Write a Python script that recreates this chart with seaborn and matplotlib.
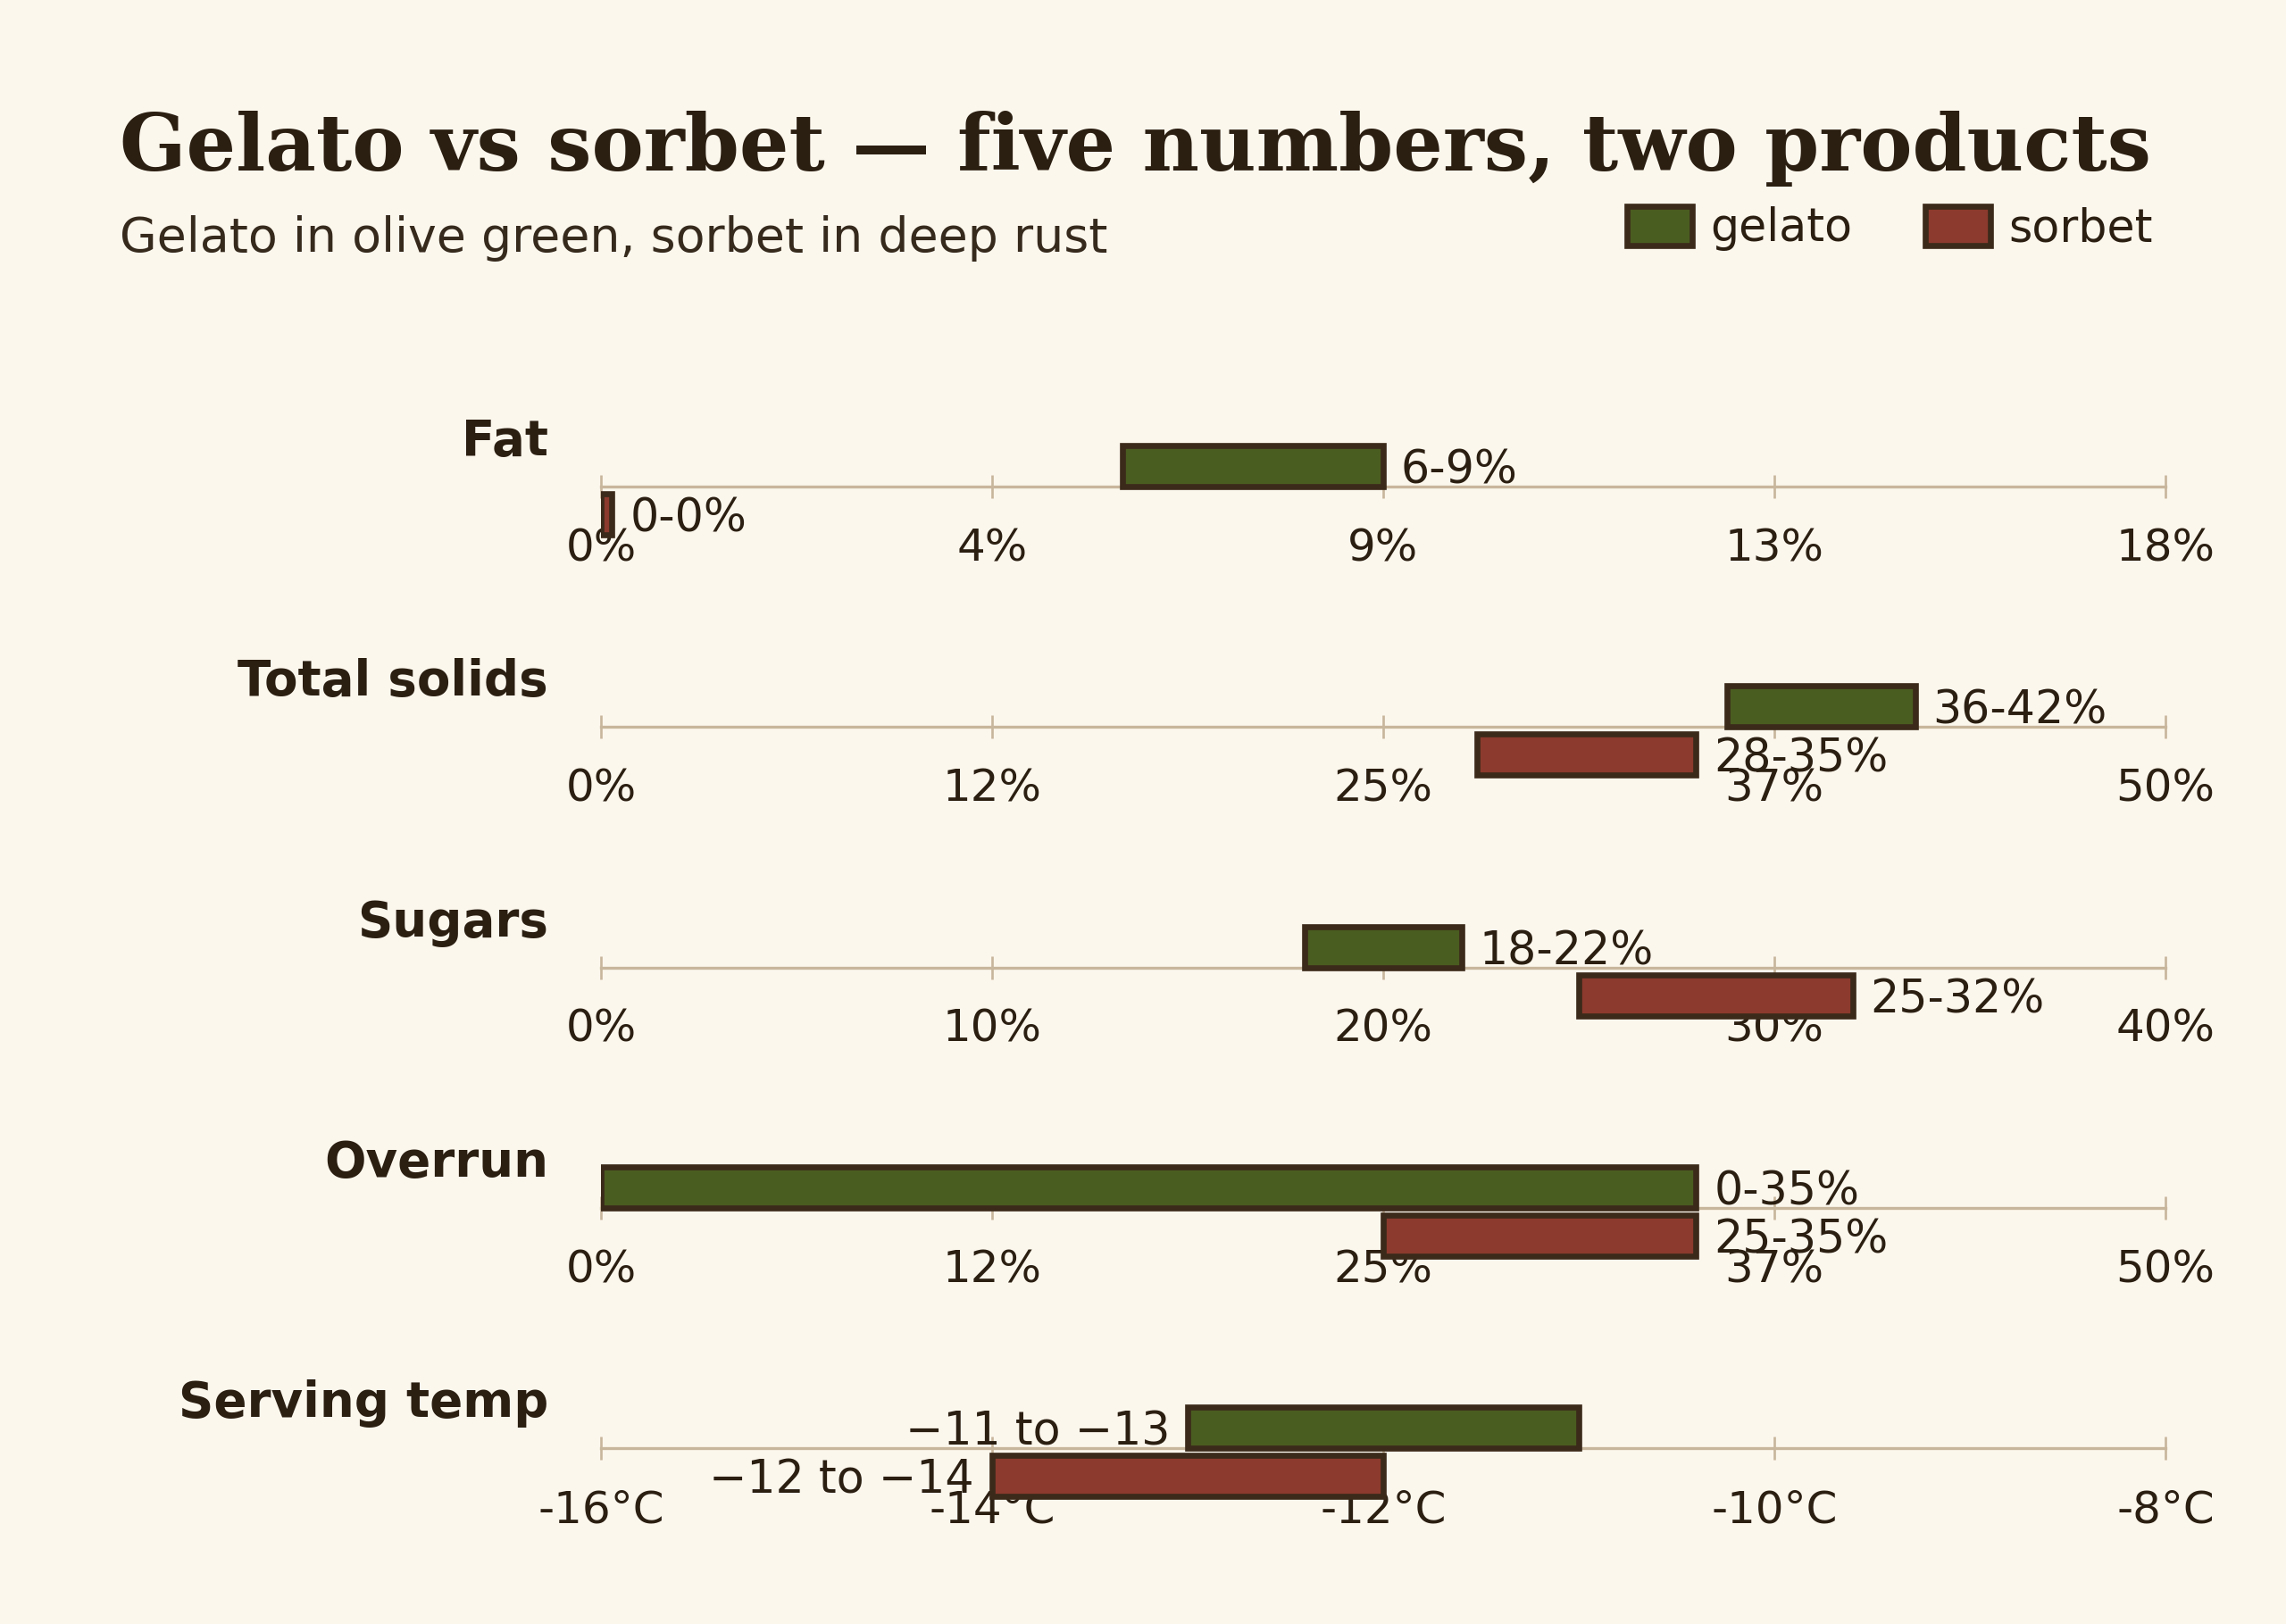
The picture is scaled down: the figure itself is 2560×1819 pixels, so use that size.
import numpy as np
import matplotlib
matplotlib.use("Agg")
import matplotlib.pyplot as plt
from matplotlib.patches import Patch
import seaborn as sns

# data
metrics = ["Fat", "Total solids", "Sugars", "Overrun", "Serving temp"]
gelato_lo = [6, 36, 18, 0, -13]
gelato_hi = [9, 42, 22, 35, -11]
sorbet_lo = [0, 28, 25, 25, -14]
sorbet_hi = [0, 35, 32, 35, -12]
gelato_labels = ["6-9%", "36-42%", "18-22%", "0-35%", "\u221211 to \u221213"]
sorbet_labels = ["0-0%", "28-35%", "25-32%", "25-35%", "\u221212 to \u221214"]
axis_min = [0, 0, 0, 0, -16]
axis_max = [18, 50, 40, 50, -8]
tick_labels = [
    ["0%", "4%", "9%", "13%", "18%"],
    ["0%", "12%", "25%", "37%", "50%"],
    ["0%", "10%", "20%", "30%", "40%"],
    ["0%", "12%", "25%", "37%", "50%"],
    ["-16°C", "-14°C", "-12°C", "-10°C", "-8°C"],
]

BG = "#fcf7ed"
INK = "#2b1f12"
EDGE = "#3b2a1a"
GREEN = "#4a5d20"
RUST = "#8b3a2d"
RULE = "#c8b69c"

sns.set_theme(style="white", rc={"figure.facecolor": BG, "axes.facecolor": BG})
plt.rcParams["font.family"] = ["DejaVu Sans"]
plt.rcParams["text.color"] = INK

W, H, DPI = 2560, 1819, 160
fig = plt.figure(figsize=(W / DPI, H / DPI), dpi=DPI)

x0, x1 = 673, 2425
first_line, row_gap = 545, 269.3
LBL = 22.8

for i, name in enumerate(metrics):
    line_y = first_line + i * row_gap
    ax = fig.add_axes([x0 / W, 1 - (line_y + 135) / H, (x1 - x0) / W, 270 / H])
    ax.set_facecolor("none")
    ax.set_xlim(axis_min[i], axis_max[i])
    ax.set_ylim(-1.35, 1.35)
    span = axis_max[i] - axis_min[i]

    # a zero-width range still gets a visible sliver
    g_w = max(gelato_hi[i] - gelato_lo[i], span * 0.007)
    s_w = max(sorbet_hi[i] - sorbet_lo[i], span * 0.007)
    ax.barh(0.23, g_w, left=gelato_lo[i], height=0.46, color=GREEN,
            edgecolor=EDGE, linewidth=3, zorder=3)
    ax.barh(-0.31, s_w, left=sorbet_lo[i], height=0.46, color=RUST,
            edgecolor=EDGE, linewidth=3, zorder=3)

    if "°C" in tick_labels[i][0]:
        ax.annotate(gelato_labels[i], (gelato_lo[i], 0.23), xytext=(-9, 0),
                    textcoords="offset points", ha="right", va="center_baseline",
                    fontsize=LBL, color=INK, zorder=4)
        ax.annotate(sorbet_labels[i], (sorbet_lo[i], -0.31), xytext=(-9, 0),
                    textcoords="offset points", ha="right", va="center_baseline",
                    fontsize=LBL, color=INK, zorder=4)
    else:
        ax.annotate(gelato_labels[i], (gelato_lo[i] + g_w, 0.23), xytext=(9, 0),
                    textcoords="offset points", ha="left", va="center_baseline",
                    fontsize=LBL, color=INK, zorder=4)
        ax.annotate(sorbet_labels[i], (sorbet_lo[i] + s_w, -0.31), xytext=(9, 0),
                    textcoords="offset points", ha="left", va="center_baseline",
                    fontsize=LBL, color=INK, zorder=4)

    sns.despine(ax=ax, left=True, top=True, right=True)
    ax.spines["bottom"].set_position(("data", 0))
    ax.spines["bottom"].set_color(RULE)
    ax.spines["bottom"].set_linewidth(1.5)
    ax.set_yticks([])
    ax.set_xticks(np.linspace(axis_min[i], axis_max[i], 5))
    ax.set_xticklabels(tick_labels[i])
    ax.tick_params(axis="x", bottom=True, direction="inout", length=11.7, width=1.2,
                   color=RULE, labelcolor=INK, labelsize=22.5, pad=14.5)
    ax.xaxis.set_zorder(1.5)

    fig.text(614 / W, 1 - (line_y - 50) / H, name, ha="right", va="center",
             fontsize=24.6, fontweight="bold", color=INK)

fig.text(134 / W, 1 - 191 / H, "Gelato vs sorbet \u2014 five numbers, two products",
         family="DejaVu Serif", fontweight="bold", fontsize=39.3, color=INK,
         va="baseline", ha="left")
fig.text(134 / W, 1 - 282 / H, "Gelato in olive green, sorbet in deep rust",
         fontsize=24.2, color=INK, va="baseline", ha="left", alpha=0.95)

handles = [Patch(facecolor=GREEN, edgecolor=EDGE, linewidth=3, label="gelato"),
           Patch(facecolor=RUST, edgecolor=EDGE, linewidth=3, label="sorbet")]
fig.legend(handles=handles, loc="center right", bbox_to_anchor=(2411 / W, 1 - 256 / H),
           ncol=2, frameon=False, fontsize=LBL, handlelength=1.45, handleheight=0.95,
           handletextpad=0.4, columnspacing=1.6, borderpad=0, borderaxespad=0)

fig.savefig("out.png", dpi=DPI, facecolor=BG)
